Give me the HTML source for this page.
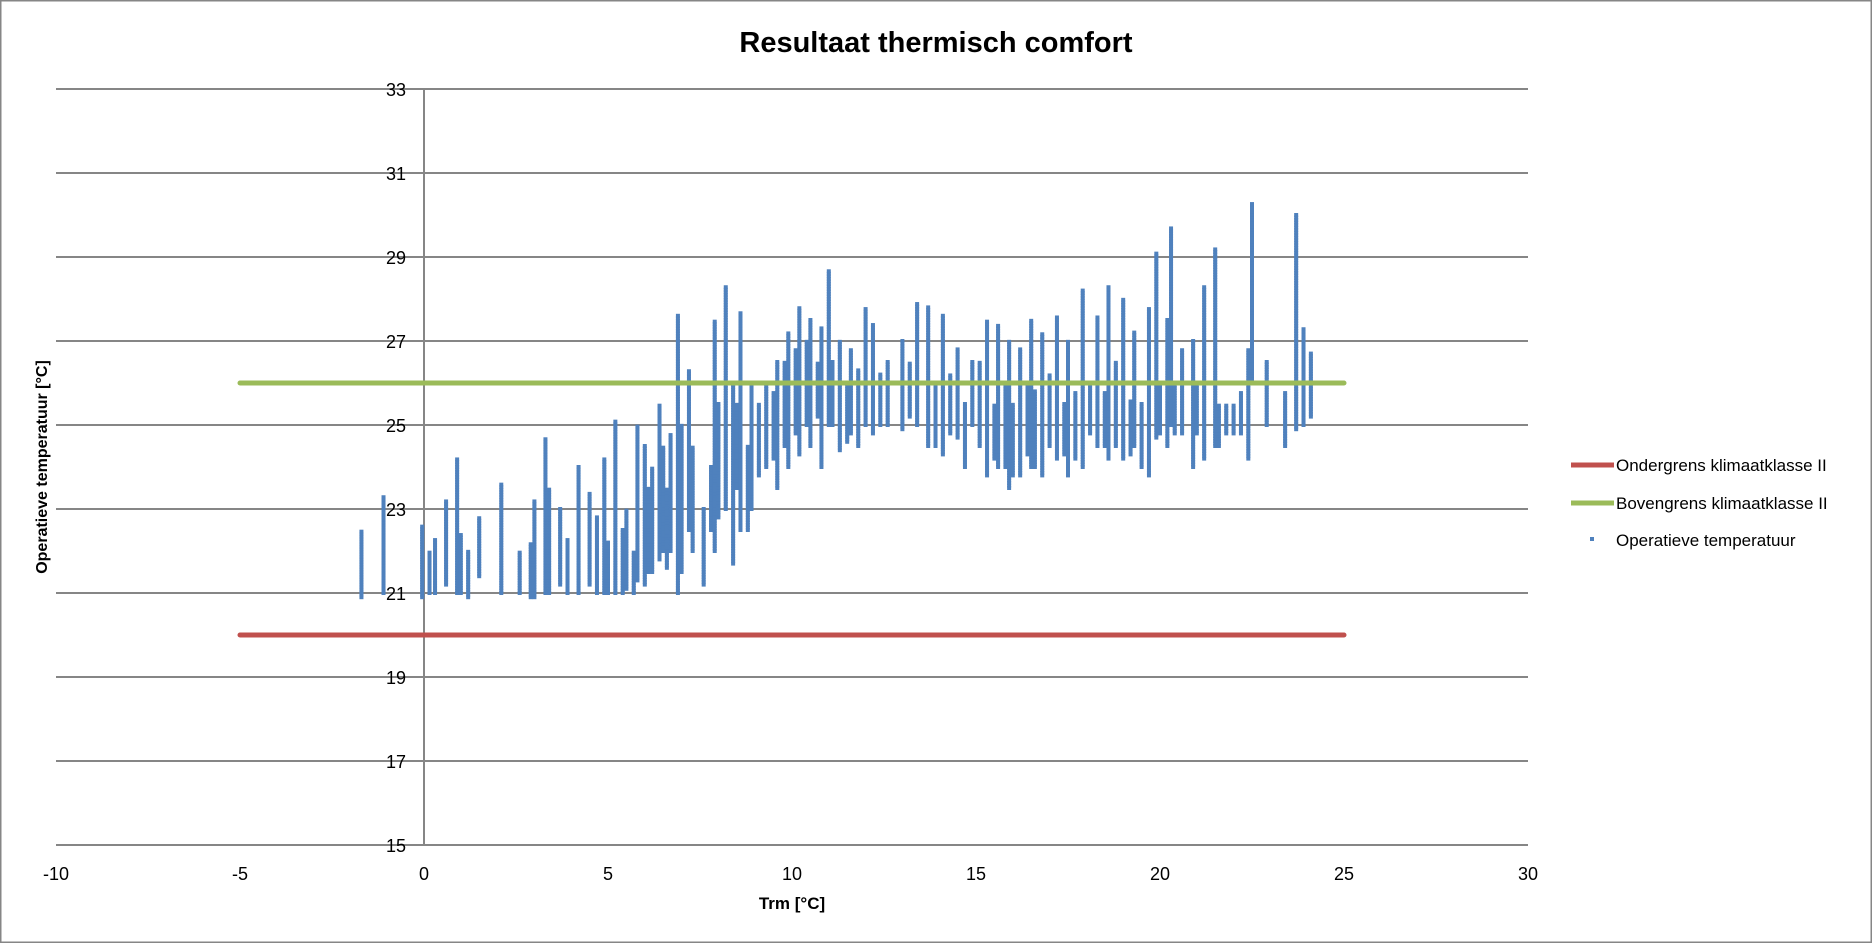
<!DOCTYPE html>
<html><head><meta charset="utf-8"><style>
html,body{margin:0;padding:0;background:#fff}
svg{display:block;font-family:"Liberation Sans",sans-serif}
</style></head><body>
<svg id="chart" width="1872" height="943" viewBox="0 0 1872 943" xmlns="http://www.w3.org/2000/svg">
<rect x="0.5" y="0.5" width="1871" height="942" fill="#fff" stroke="#868686" stroke-width="2"/>
<text x="936" y="52" text-anchor="middle" font-size="29" font-weight="bold" fill="#000">Resultaat thermisch comfort</text>
<g id="grid"></g>
<g id="yticks"></g>
<g id="xticks"></g>
<g id="points"></g>
<g id="limits"></g>
<text transform="translate(47,467) rotate(-90)" text-anchor="middle" font-size="16" font-weight="bold" fill="#000">Operatieve temperatuur [°C]</text>
<text x="792" y="909" text-anchor="middle" font-size="17" font-weight="bold" fill="#000">Trm [°C]</text>
<g font-size="17" fill="#000">
<g><line x1="1571" y1="465" x2="1614" y2="465" stroke="#c0504d" stroke-width="5"/><text x="1616" y="471">Ondergrens klimaatklasse II</text></g>
<g><line x1="1571" y1="503" x2="1614" y2="503" stroke="#9bbb59" stroke-width="5"/><text x="1616" y="509">Bovengrens klimaatklasse II</text></g>
<g><rect x="1590" y="537" width="4" height="4" fill="#4f81bd"/><text x="1616" y="546">Operatieve temperatuur</text></g>
</g>
</svg>
<script>
const xTicks = [-10,-5,0,5,10,15,20,25,30];
const yTicks = [15,17,19,21,23,25,27,29,31,33];
const lowerLimit = [[-5,20],[25,20]];
const upperLimit = [[-5,26],[25,26]];
// strips of operative temperature observations: [Trm, min, max]
const stripX = [-1.7,-1.1,-0.05,0.15,0.3,0.6,0.9,1.0,1.2,1.5,2.1,2.6,2.9,3.0,3.3,3.4,3.7,3.9,4.2,4.5,4.7,4.9,5.0,5.2,5.4,5.5,5.7,5.8,6.0,6.1,6.2,6.4,6.5,6.6,6.7,6.9,7.0,7.2,7.3,7.6,7.8,7.9,8.0,8.2,8.4,8.5,8.6,8.8,8.9,9.1,9.3,9.5,9.6,9.8,9.9,10.1,10.2,10.4,10.5,10.7,10.8,11.0,11.1,11.3,11.5,11.6,11.8,12.0,12.2,12.4,12.6,13.0,13.2,13.4,13.7,13.9,14.1,14.3,14.5,14.7,14.9,15.1,15.3,15.5,15.6,15.8,15.9,16.0,16.2,16.4,16.5,16.6,16.8,17.0,17.2,17.4,17.5,17.7,17.9,18.1,18.3,18.5,18.6,18.8,19.0,19.2,19.3,19.5,19.7,19.9,20.0,20.2,20.3,20.4,20.6,20.9,21.0,21.2,21.5,21.6,21.8,22.0,22.2,22.4,22.5,22.9,23.4,23.7,23.9,24.1];
const stripMin = [20.9,21.0,20.9,21.0,21.0,21.2,21.0,21.0,20.9,21.4,21.0,21.0,20.9,20.9,21.0,21.0,21.2,21.0,21.0,21.2,21.0,21.0,21.0,21.0,21.0,21.1,21.0,21.3,21.2,21.5,21.5,21.8,22.0,21.6,22.0,21.0,21.5,22.5,22.0,21.2,22.5,22.0,22.8,23.0,21.7,23.5,22.5,22.5,23.0,23.8,24.0,24.2,23.5,24.5,24.0,24.8,24.3,25.0,24.5,25.2,24.0,25.0,25.0,24.4,24.6,24.8,24.5,25.0,24.8,25.0,25.0,24.9,25.2,25.0,24.5,24.5,24.3,24.8,24.7,24.0,25.0,24.5,23.8,24.2,24.0,24.0,23.5,23.8,23.8,24.3,24.0,24.0,23.8,24.5,24.2,24.3,23.8,24.2,24.0,24.8,24.5,24.5,24.2,24.5,24.2,24.3,24.5,24.0,23.8,24.7,24.8,24.5,25.0,24.8,24.8,24.0,24.8,24.2,24.5,24.5,24.8,24.8,24.8,24.2,26.0,25.0,24.5,24.9,25.0,25.2];
const stripMax = [22.5,23.3,22.6,22.0,22.3,23.2,24.2,22.4,22.0,22.8,23.6,22.0,22.2,23.2,24.7,23.5,23.0,22.3,24.0,23.4,22.8,24.2,22.2,25.1,22.5,23.0,22.0,25.0,24.5,23.5,24.0,25.5,24.5,23.5,24.8,27.6,25.0,26.3,24.5,23.0,24.0,27.5,25.5,28.3,26.0,25.5,27.7,24.5,26.0,25.5,26.0,25.8,26.5,26.5,27.2,26.8,27.8,27.0,27.5,26.5,27.3,28.7,26.5,27.0,26.0,26.8,26.3,27.8,27.4,26.2,26.5,27.0,26.5,27.9,27.8,26.0,27.6,26.2,26.8,25.5,26.5,26.5,27.5,25.5,27.4,26.0,27.0,25.5,26.8,26.0,27.5,25.8,27.2,26.2,27.6,25.5,27.0,25.8,28.2,26.0,27.6,25.8,28.3,26.5,28.0,25.6,27.2,25.5,27.8,29.1,26.0,27.5,29.7,26.0,26.8,27.0,26.0,28.3,29.2,25.5,25.5,25.5,25.8,26.8,30.3,26.5,25.8,30.0,27.3,26.7];

const NS='http://www.w3.org/2000/svg';
const xs = v => 424 + (v - 0) * 36.8;
const ys = v => 845 - (v - 15) * 42;
function mk(tag, attrs, parent){const e=document.createElementNS(NS,tag);for(const k in attrs)e.setAttribute(k,attrs[k]);parent.appendChild(e);return e;}
const grid=document.getElementById('grid'), yt=document.getElementById('yticks'), xt=document.getElementById('xticks');
yTicks.forEach(v=>{
  const l=mk('line',{x1:xs(-10),x2:xs(30),y1:ys(v),y2:ys(v),stroke:'#868686','stroke-width':2},grid);
  
  
  const t=mk('text',{x:406,y:ys(v)+7,'text-anchor':'end','font-size':18,fill:'#000'},yt);
  t.textContent=v;
  
  
});
const ax=mk('line',{x1:xs(0),x2:xs(0),y1:ys(33),y2:ys(15),stroke:'#868686','stroke-width':2},grid);


xTicks.forEach(v=>{
  const t=mk('text',{x:xs(v),y:880,'text-anchor':'middle','font-size':18,fill:'#000'},xt);
  t.textContent=v;
  
  
});
const pts=document.getElementById('points');
for(let i=0;i<stripX.length;i++){
  const g=mk('g',{fill:'#4f81bd'},pts);
  
  
  for(let y=stripMin[i]; y<=stripMax[i]+1e-6; y+=0.06){
    mk('rect',{x:xs(stripX[i])-2,y:ys(y)-2,width:4,height:4},g);
  }
}
const lim=document.getElementById('limits');
const up=mk('line',{x1:xs(upperLimit[0][0]),y1:ys(upperLimit[0][1]),x2:xs(upperLimit[1][0]),y2:ys(upperLimit[1][1]),stroke:'#9bbb59','stroke-width':5,'stroke-linecap':'round'},lim);


const lo=mk('line',{x1:xs(lowerLimit[0][0]),y1:ys(lowerLimit[0][1]),x2:xs(lowerLimit[1][0]),y2:ys(lowerLimit[1][1]),stroke:'#c0504d','stroke-width':5,'stroke-linecap':'round'},lim);


</script>
</body></html>
